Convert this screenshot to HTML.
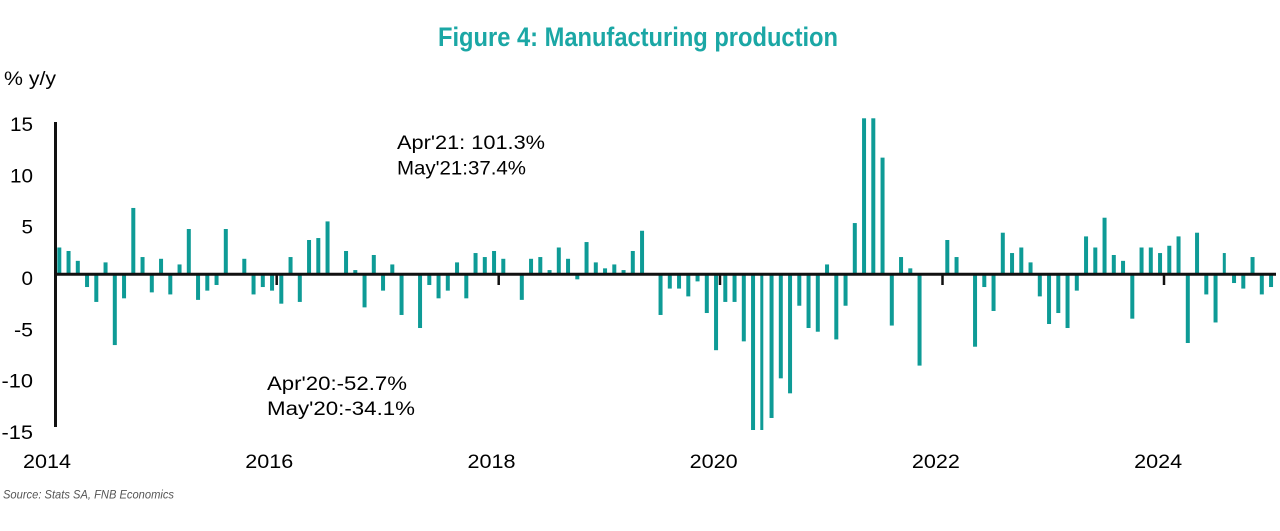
<!DOCTYPE html>
<html>
<head>
<meta charset="utf-8">
<style>
html,body{margin:0;padding:0;background:#fff;}
svg{display:block;}
text{font-family:"Liberation Sans",Arial,sans-serif;}
</style>
</head>
<body>
<svg width="1280" height="531" viewBox="0 0 1280 531" xmlns="http://www.w3.org/2000/svg">
<rect x="0" y="0" width="1280" height="531" fill="#ffffff"/>
<text x="438" y="46" font-size="27" font-weight="bold" fill="#1ba7a5" textLength="400" lengthAdjust="spacingAndGlyphs">Figure 4: Manufacturing production</text>
<text x="4" y="85" font-size="19" fill="#000" textLength="52" lengthAdjust="spacingAndGlyphs">% y/y</text>
<g font-size="19" fill="#000" text-anchor="end">
<text x="33" y="131" textLength="23" lengthAdjust="spacingAndGlyphs">15</text>
<text x="33" y="182.3" textLength="23" lengthAdjust="spacingAndGlyphs">10</text>
<text x="33" y="233.7" textLength="11.5" lengthAdjust="spacingAndGlyphs">5</text>
<text x="33" y="285" textLength="11.5" lengthAdjust="spacingAndGlyphs">0</text>
<text x="33" y="336.4" textLength="19" lengthAdjust="spacingAndGlyphs">-5</text>
<text x="33" y="387.7" textLength="31.5" lengthAdjust="spacingAndGlyphs">-10</text>
<text x="33" y="439" textLength="31.5" lengthAdjust="spacingAndGlyphs">-15</text>
</g>
<g font-size="19" fill="#000">
<text x="23" y="468" textLength="48" lengthAdjust="spacingAndGlyphs">2014</text>
<text x="245.3" y="468" textLength="48" lengthAdjust="spacingAndGlyphs">2016</text>
<text x="467.5" y="468" textLength="48" lengthAdjust="spacingAndGlyphs">2018</text>
<text x="689.7" y="468" textLength="48" lengthAdjust="spacingAndGlyphs">2020</text>
<text x="911.9" y="468" textLength="48" lengthAdjust="spacingAndGlyphs">2022</text>
<text x="1134.1" y="468" textLength="48" lengthAdjust="spacingAndGlyphs">2024</text>
</g>
<g font-size="19" fill="#000">
<text x="397" y="149" textLength="148" lengthAdjust="spacingAndGlyphs">Apr'21: 101.3%</text>
<text x="397" y="174.3" textLength="129" lengthAdjust="spacingAndGlyphs">May'21:37.4%</text>
<text x="267" y="390" textLength="140" lengthAdjust="spacingAndGlyphs">Apr'20:-52.7%</text>
<text x="267" y="415" textLength="148" lengthAdjust="spacingAndGlyphs">May'20:-34.1%</text>
</g>
<text x="3" y="498.5" font-size="12" font-style="italic" fill="#555" textLength="171" lengthAdjust="spacingAndGlyphs">Source: Stats SA, FNB Economics</text>

<g transform="translate(59.3,274.2) scale(1,-10.27)" fill="#0e9b96">
<rect x="-2" y="0" width="4" height="2.6"/>
<rect x="7.25" y="0" width="4" height="2.26"/>
<rect x="16.5" y="0" width="4" height="1.3"/>
<rect x="25.75" y="-1.25" width="4" height="1.25"/>
<rect x="35" y="-2.7" width="4" height="2.7"/>
<rect x="44.25" y="0" width="4" height="1.15"/>
<rect x="53.5" y="-6.9" width="4" height="6.9"/>
<rect x="62.75" y="-2.35" width="4" height="2.35"/>
<rect x="72" y="0" width="4" height="6.45"/>
<rect x="81.25" y="0" width="4" height="1.67"/>
<rect x="90.5" y="-1.77" width="4" height="1.77"/>
<rect x="99.75" y="0" width="4" height="1.5"/>
<rect x="109" y="-1.97" width="4" height="1.97"/>
<rect x="118.25" y="0" width="4" height="0.95"/>
<rect x="127.5" y="0" width="4" height="4.4"/>
<rect x="136.75" y="-2.5" width="4" height="2.5"/>
<rect x="146" y="-1.6" width="4" height="1.6"/>
<rect x="155.25" y="-1.05" width="4" height="1.05"/>
<rect x="164.5" y="0" width="4" height="4.4"/>
<rect x="173.75" y="0" width="4" height="0.05"/>
<rect x="183" y="0" width="4" height="1.5"/>
<rect x="192.25" y="-1.97" width="4" height="1.97"/>
<rect x="201.5" y="-1.25" width="4" height="1.25"/>
<rect x="210.75" y="-1.6" width="4" height="1.6"/>
<rect x="220" y="-2.87" width="4" height="2.87"/>
<rect x="229.25" y="0" width="4" height="1.67"/>
<rect x="238.5" y="-2.7" width="4" height="2.7"/>
<rect x="247.75" y="0" width="4" height="3.33"/>
<rect x="257" y="0" width="4" height="3.52"/>
<rect x="266.25" y="0" width="4" height="5.14"/>
<rect x="275.5" y="0" width="4" height="0.05"/>
<rect x="284.75" y="0" width="4" height="2.26"/>
<rect x="294" y="0" width="4" height="0.4"/>
<rect x="303.25" y="-3.23" width="4" height="3.23"/>
<rect x="312.5" y="0" width="4" height="1.87"/>
<rect x="321.75" y="-1.6" width="4" height="1.6"/>
<rect x="331" y="0" width="4" height="0.95"/>
<rect x="340.25" y="-3.97" width="4" height="3.97"/>
<rect x="349.5" y="0" width="4" height="0.02"/>
<rect x="358.75" y="-5.24" width="4" height="5.24"/>
<rect x="368" y="-1.05" width="4" height="1.05"/>
<rect x="377.25" y="-2.35" width="4" height="2.35"/>
<rect x="386.5" y="-1.6" width="4" height="1.6"/>
<rect x="395.75" y="0" width="4" height="1.15"/>
<rect x="405" y="-2.35" width="4" height="2.35"/>
<rect x="414.25" y="0" width="4" height="2.06"/>
<rect x="423.5" y="0" width="4" height="1.67"/>
<rect x="432.75" y="0" width="4" height="2.26"/>
<rect x="442" y="0" width="4" height="1.5"/>
<rect x="451.25" y="0" width="4" height="0.05"/>
<rect x="460.5" y="-2.5" width="4" height="2.5"/>
<rect x="469.75" y="0" width="4" height="1.5"/>
<rect x="479" y="0" width="4" height="1.67"/>
<rect x="488.25" y="0" width="4" height="0.4"/>
<rect x="497.5" y="0" width="4" height="2.6"/>
<rect x="506.75" y="0" width="4" height="1.5"/>
<rect x="516" y="-0.5" width="4" height="0.5"/>
<rect x="525.25" y="0" width="4" height="3.13"/>
<rect x="534.5" y="0" width="4" height="1.15"/>
<rect x="543.75" y="0" width="4" height="0.57"/>
<rect x="553" y="0" width="4" height="0.95"/>
<rect x="562.25" y="0" width="4" height="0.4"/>
<rect x="571.5" y="0" width="4" height="2.26"/>
<rect x="580.75" y="0" width="4" height="4.23"/>
<rect x="590" y="0" width="4" height="0.05"/>
<rect x="599.25" y="-3.97" width="4" height="3.97"/>
<rect x="608.5" y="-1.4" width="4" height="1.4"/>
<rect x="617.75" y="-1.4" width="4" height="1.4"/>
<rect x="627" y="-2.16" width="4" height="2.16"/>
<rect x="636.25" y="-0.7" width="4" height="0.7"/>
<rect x="645.5" y="-3.78" width="4" height="3.78"/>
<rect x="654.75" y="-7.4" width="4" height="7.4"/>
<rect x="664" y="-2.7" width="4" height="2.7"/>
<rect x="673.25" y="-2.7" width="4" height="2.7"/>
<rect x="682.5" y="-6.54" width="4" height="6.54"/>
<rect x="691.75" y="-15.17" width="4" height="15.17"/>
<rect x="701" y="-15.17" width="3" height="15.17"/>
<rect x="710.25" y="-14.0" width="4" height="14.0"/>
<rect x="719.5" y="-10.14" width="4" height="10.14"/>
<rect x="728.75" y="-11.6" width="4" height="11.6"/>
<rect x="738" y="-3.07" width="4" height="3.07"/>
<rect x="747.25" y="-5.24" width="4" height="5.24"/>
<rect x="756.5" y="-5.6" width="4" height="5.6"/>
<rect x="765.75" y="0" width="4" height="0.95"/>
<rect x="775" y="-6.35" width="4" height="6.35"/>
<rect x="784.25" y="-3.07" width="4" height="3.07"/>
<rect x="793.5" y="0" width="4" height="4.98"/>
<rect x="802.75" y="0" width="4" height="15.18"/>
<rect x="812" y="0" width="4" height="15.18"/>
<rect x="821.25" y="0" width="4" height="11.35"/>
<rect x="830.5" y="-5.0" width="4" height="5.0"/>
<rect x="839.75" y="0" width="4" height="1.67"/>
<rect x="849" y="0" width="4" height="0.57"/>
<rect x="858.25" y="-8.9" width="4" height="8.9"/>
<rect x="867.5" y="0" width="4" height="0.1"/>
<rect x="876.75" y="0" width="4" height="0.02"/>
<rect x="886" y="0" width="4" height="3.33"/>
<rect x="895.25" y="0" width="4" height="1.67"/>
<rect x="904.5" y="0" width="4" height="0.05"/>
<rect x="913.75" y="-7.06" width="4" height="7.06"/>
<rect x="923" y="-1.25" width="4" height="1.25"/>
<rect x="932.25" y="-3.58" width="4" height="3.58"/>
<rect x="941.5" y="0" width="4" height="4.04"/>
<rect x="950.75" y="0" width="4" height="2.06"/>
<rect x="960" y="0" width="4" height="2.6"/>
<rect x="969.25" y="0" width="4" height="1.15"/>
<rect x="978.5" y="-2.16" width="4" height="2.16"/>
<rect x="987.75" y="-4.85" width="4" height="4.85"/>
<rect x="997" y="-3.78" width="4" height="3.78"/>
<rect x="1006.25" y="-5.24" width="4" height="5.24"/>
<rect x="1015.5" y="-1.6" width="4" height="1.6"/>
<rect x="1024.75" y="0" width="4" height="3.68"/>
<rect x="1034" y="0" width="4" height="2.6"/>
<rect x="1043.25" y="0" width="4" height="5.5"/>
<rect x="1052.5" y="0" width="4" height="1.87"/>
<rect x="1061.75" y="0" width="4" height="1.3"/>
<rect x="1071" y="-4.33" width="4" height="4.33"/>
<rect x="1080.25" y="0" width="4" height="2.6"/>
<rect x="1089.5" y="0" width="4" height="2.6"/>
<rect x="1098.75" y="0" width="4" height="2.06"/>
<rect x="1108" y="0" width="4" height="2.77"/>
<rect x="1117.25" y="0" width="4" height="3.68"/>
<rect x="1126.5" y="-6.7" width="4" height="6.7"/>
<rect x="1135.75" y="0" width="4" height="4.04"/>
<rect x="1145" y="-1.97" width="4" height="1.97"/>
<rect x="1154.25" y="-4.7" width="4" height="4.7"/>
<rect x="1163.5" y="0" width="3" height="2.06"/>
<rect x="1172.75" y="-0.86" width="4" height="0.86"/>
<rect x="1182" y="-1.4" width="4" height="1.4"/>
<rect x="1191.25" y="0" width="4" height="1.67"/>
<rect x="1200.5" y="-1.97" width="4" height="1.97"/>
<rect x="1209.75" y="-1.25" width="4" height="1.25"/>
</g>

<!-- axes -->
<line x1="55.5" y1="122" x2="55.5" y2="427" stroke="#111" stroke-width="3"/>
<line x1="54" y1="274.2" x2="1276" y2="274.2" stroke="#111" stroke-width="3"/>
<g stroke="#111" stroke-width="2.5">
<line x1="276.7" y1="274" x2="276.7" y2="285"/>
<line x1="498.7" y1="274" x2="498.7" y2="285"/>
<line x1="720" y1="274" x2="720" y2="285"/>
<line x1="942.5" y1="274" x2="942.5" y2="285"/>
<line x1="1164" y1="274" x2="1164" y2="285"/>
</g>
</svg>
</body>
</html>
